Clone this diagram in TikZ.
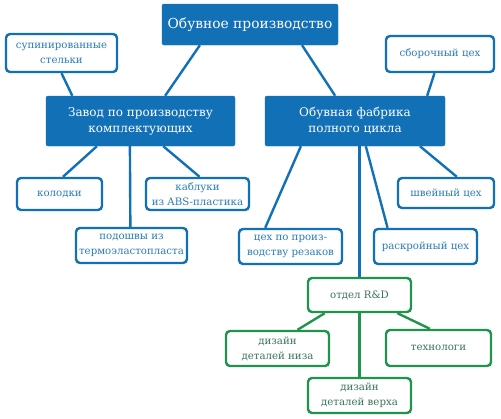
\documentclass[tikz,border=0pt]{standalone}
\usepackage{fontspec}
\setmainfont{DejaVu Serif}
\usepackage{xcolor}
\usetikzlibrary{calc}

\definecolor{boxblue}{RGB}{18,112,183}
\definecolor{txtblue}{RGB}{42,124,180}
\definecolor{boxgreen}{RGB}{32,148,76}
\definecolor{txtgreen}{RGB}{56,116,86}

\tikzset{
  mainbox/.style={fill=boxblue, draw=boxblue, text=white, rounded corners=2pt,
    align=center, inner sep=0pt, font=\fontsize{12}{16}\selectfont},
  leafbox/.style={draw=boxblue, fill=white, text=txtblue, line width=2.4pt,
    rounded corners=4pt, align=center, inner sep=0pt, font=\fontsize{10.2}{15}\selectfont},
  rdbox/.style={leafbox, draw=boxgreen, text=txtgreen},
  link/.style={draw=boxblue, line width=2.4pt},
  rdlink/.style={draw=boxgreen, line width=2.4pt}
}

\begin{document}
\begin{tikzpicture}[x=1pt, y=-1pt]
  \useasboundingbox (0,0) rectangle (501,418);
  % Main blocks
  \node[mainbox, minimum width=176pt, minimum height=41pt, font=\fontsize{13.8}{16}\selectfont]
    (top) at (250,24.5) {Обувное производство};
  \node[mainbox, minimum width=189pt, minimum height=50pt]
    (zavod) at (140.5,121) {Завод по производству\\комплектующих};
  \node[mainbox, minimum width=180pt, minimum height=50pt]
    (fab) at (355,121) {Обувная фабрика\\полного цикла};
  % Plant units
  \node[leafbox, minimum width=111pt, minimum height=38pt]
    (stelki) at (61.5,53) {супинированные\\стельки};
  \node[leafbox, minimum width=85pt, minimum height=32pt]
    (kolodki) at (59.5,194) {колодки};
  \node[leafbox, minimum width=103pt, minimum height=32pt]
    (kabluki) at (197.5,194) {каблуки\\из ABS-пластика};
  \node[leafbox, minimum width=111pt, minimum height=35pt]
    (podoshvy) at (131.5,245.5) {подошвы из\\термоэластопласта};
  % Factory units
  \node[leafbox, minimum width=108pt, minimum height=36pt]
    (sbor) at (440,54) {сборочный цех};
  \node[leafbox, minimum width=96pt, minimum height=30pt]
    (shvei) at (446,193) {швейный цех};
  \node[leafbox, minimum width=103pt, minimum height=35pt]
    (rezaki) at (290.5,246.5) {цех по произ-\\водству резаков};
  \node[leafbox, minimum width=103pt, minimum height=35pt]
    (raskroy) at (425.5,246.5) {раскройный цех};
  % R&D
  \node[rdbox, minimum width=103pt, minimum height=34pt]
    (rd) at (359.5,295) {отдел R\&D};
  \node[rdbox, minimum width=103pt, minimum height=35pt]
    (niz) at (277.5,348.5) {дизайн\\деталей низа};
  \node[rdbox, minimum width=105pt, minimum height=36pt]
    (tekh) at (438.5,348) {технологи};
  \node[rdbox, minimum width=103pt, minimum height=35pt]
    (verkh) at (359.5,395.5) {дизайн\\деталей верха};
  % Links
  \draw[link] ($(top.south west)!.216!(top.south east)$) -- ($(zavod.north west)!.63!(zavod.north east)$);
  \draw[link] ($(top.south west)!.795!(top.south east)$) -- ($(fab.north west)!.39!(fab.north east)$);
  \draw[link] (stelki.south) -- ($(zavod.north west)!.14!(zavod.north east)$);
  \draw[link] ($(sbor.south west)!.45!(sbor.south east)$) -- ($(fab.north west)!.9!(fab.north east)$);
  \draw[link] ($(zavod.south west)!.27!(zavod.south east)$) -- ($(kolodki.north west)!.54!(kolodki.north east)$);
  \draw[link] ($(zavod.south west)!.444!(zavod.south east)$) -- ($(podoshvy.north west)!.49!(podoshvy.north east)$);
  \draw[link] ($(zavod.south west)!.62!(zavod.south east)$) -- ($(kabluki.north west)!.52!(kabluki.north east)$);
  \draw[link] ($(fab.south west)!.2!(fab.south east)$) -- ($(rezaki.north west)!.26!(rezaki.north east)$);
  \draw[link] (rd.north |- fab.south) -- (rd.north);
  \draw[link] ($(fab.south west)!.56!(fab.south east)$) -- ($(raskroy.north west)!.14!(raskroy.north east)$);
  \draw[link] ($(fab.south west)!.86!(fab.south east)$) -- ($(shvei.north west)!.61!(shvei.north east)$);
  \draw[rdlink] ($(rd.south west)!.17!(rd.south east)$) -- ($(niz.north west)!.69!(niz.north east)$);
  \draw[rdlink] (rd.south) -- (verkh.north);
  \draw[rdlink] ($(rd.south west)!.86!(rd.south east)$) -- ($(tekh.north west)!.42!(tekh.north east)$);
\end{tikzpicture}
\end{document}
